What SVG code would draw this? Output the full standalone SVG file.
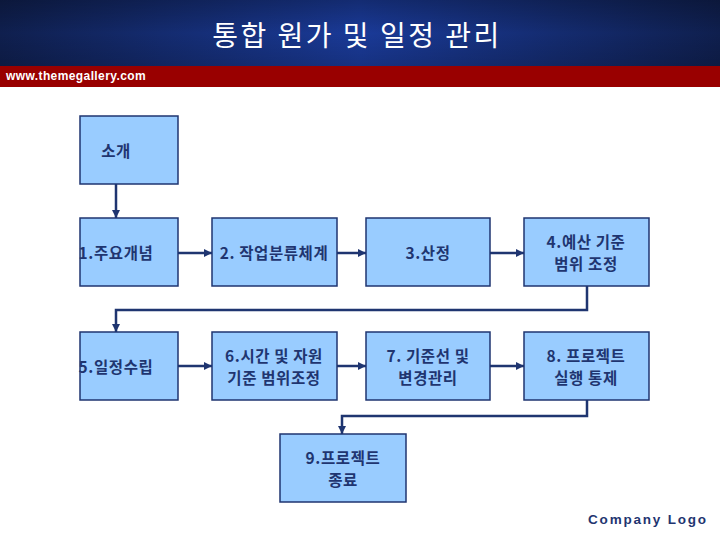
<svg xmlns="http://www.w3.org/2000/svg" width="720" height="540" viewBox="0 0 720 540">
<defs>
<linearGradient id="hdr" x1="0" y1="0" x2="1" y2="0">
<stop offset="0" stop-color="#0f1f4e"/>
<stop offset="0.5" stop-color="#1a3a98"/>
<stop offset="1" stop-color="#0f1f4e"/>
</linearGradient>
<linearGradient id="hdrv" x1="0" y1="0" x2="0" y2="1">
<stop offset="0" stop-color="#000" stop-opacity="0.25"/>
<stop offset="0.5" stop-color="#000" stop-opacity="0"/>
<stop offset="1" stop-color="#000" stop-opacity="0.15"/>
</linearGradient>
<marker id="ah" viewBox="0 0 10 10" refX="10" refY="5" markerWidth="8" markerHeight="8" markerUnits="userSpaceOnUse" orient="auto">
<path d="M0,0 L10,5 L0,10 z" fill="#1f3570"/>
</marker>
<style>
.box{fill:#99ccff;stroke:#1f3570;stroke-width:1.5}
.lbl{font-family:"Noto Sans CJK KR","Liberation Sans",sans-serif;font-size:15.5px;font-weight:bold;fill:#1f3570;text-anchor:middle;letter-spacing:0.6px}
.con{fill:none;stroke:#1f3570;stroke-width:2.5;marker-end:url(#ah)}
</style>
</defs>
<rect x="0" y="0" width="720" height="66" fill="url(#hdr)"/>
<rect x="0" y="0" width="720" height="66" fill="url(#hdrv)"/>
<rect x="0" y="66" width="720" height="21" fill="#990000"/>
<text x="357" y="46" font-family="Noto Sans CJK KR,sans-serif" font-size="28" fill="#ffffff" text-anchor="middle" letter-spacing="2.5">통합 원가 및 일정 관리</text>
<text x="6" y="80" font-family="Liberation Sans,sans-serif" font-size="12" font-weight="bold" fill="#ffffff" letter-spacing="0.4">www.themegallery.com</text>

<g id="connectors">
<path class="con" d="M116,184 V218"/>
<path class="con" d="M178,253 H212"/>
<path class="con" d="M337,253 H366"/>
<path class="con" d="M490,253 H524"/>
<path class="con" d="M587,286 V310 H116 V332"/>
<path class="con" d="M178,366 H212"/>
<path class="con" d="M337,366 H366"/>
<path class="con" d="M490,366 H524"/>
<path class="con" d="M587,400 V416 H342 V434"/>
</g>

<g id="n0"><rect class="box" x="80" y="116" width="98" height="68"/><text class="lbl" x="116" y="157">소개</text></g>
<g id="n1"><rect class="box" x="80" y="218" width="98" height="68"/><text class="lbl" x="116" y="259">1.주요개념</text></g>
<g id="n2"><rect class="box" x="212" y="218" width="125" height="68"/><text class="lbl" x="274" y="259">2. 작업분류체계</text></g>
<g id="n3"><rect class="box" x="366" y="218" width="124" height="68"/><text class="lbl" x="428" y="259">3.산정</text></g>
<g id="n4"><rect class="box" x="524" y="218" width="125" height="68"/><text class="lbl" x="586" y="248">4.예산 기준</text><text class="lbl" x="586" y="270">범위 조정</text></g>
<g id="n5"><rect class="box" x="80" y="332" width="98" height="68"/><text class="lbl" x="116" y="373">5.일정수립</text></g>
<g id="n6"><rect class="box" x="212" y="332" width="125" height="68"/><text class="lbl" x="274" y="362">6.시간 및 자원</text><text class="lbl" x="274" y="384">기준 범위조정</text></g>
<g id="n7"><rect class="box" x="366" y="332" width="124" height="68"/><text class="lbl" x="428" y="362">7. 기준선 및</text><text class="lbl" x="428" y="384">변경관리</text></g>
<g id="n8"><rect class="box" x="524" y="332" width="125" height="68"/><text class="lbl" x="586" y="362">8. 프로젝트</text><text class="lbl" x="586" y="384">실행 통제</text></g>
<g id="n9"><rect class="box" x="280" y="434" width="126" height="68"/><text class="lbl" x="343" y="464">9.프로젝트</text><text class="lbl" x="343" y="486">종료</text></g>

<text x="648" y="524" font-family="Liberation Sans,sans-serif" font-size="13.5" font-weight="bold" fill="#1f3570" text-anchor="middle" letter-spacing="1.8">Company Logo</text>
</svg>
